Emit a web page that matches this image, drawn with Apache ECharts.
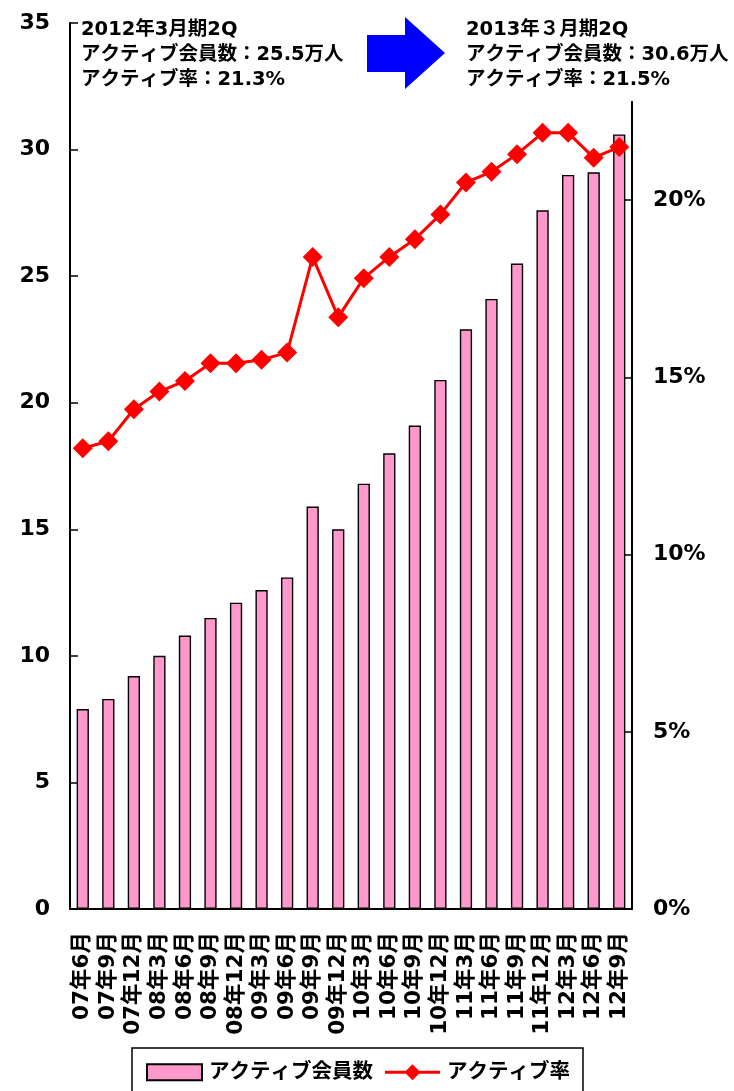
<!DOCTYPE html>
<html>
<head>
<meta charset="utf-8">
<script src="https://cdn.jsdelivr.net/npm/echarts@6/dist/echarts.min.js"></script>
<style>
html,body{margin:0;padding:0;background:#fff;}
#c{width:734px;height:1091px;}
</style>
</head>
<body>
<div id="c"></div>
<script>
var categories = ['07年6月','07年9月','07年12月','08年3月','08年6月','08年9月','08年12月','09年3月','09年6月','09年9月','09年12月','10年3月','10年6月','10年9月','10年12月','11年3月','11年6月','11年9月','11年12月','12年3月','12年6月','12年9月'];
var members = [7.9, 8.3, 9.2, 10.0, 10.8, 11.5, 12.1, 12.6, 13.1, 15.9, 15.0, 16.8, 18.0, 19.1, 20.9, 22.9, 24.1, 25.5, 27.6, 29.0, 29.1, 30.6];
var activeRate = [13.0, 13.2, 14.1, 14.6, 14.9, 15.4, 15.4, 15.5, 15.7, 18.4, 16.7, 17.8, 18.4, 18.9, 19.6, 20.5, 20.8, 21.3, 21.9, 21.9, 21.2, 21.5];
var leftTicks = {min: 0, max: 35, interval: 5};
var rightTicks = {min: 0, max: 25, interval: 5};
var seriesNames = ['アクティブ会員数', 'アクティブ率'];
var noteLeft = ['2012年3月期2Q', 'アクティブ会員数：25.5万人', 'アクティブ率：21.3%'];
var noteRight = ['2013年３月期2Q', 'アクティブ会員数：30.6万人', 'アクティブ率：21.5%'];

var FONT = '"DejaVu Sans", "Noto Sans CJK JP", sans-serif';
var chart = echarts.init(document.getElementById('c'));
chart.setOption({
  animation: false,
  backgroundColor: '#fff',
  grid: {left: 70, right: 102, top: 23, bottom: 182},
  xAxis: {
    type: 'category',
    data: categories,
    axisLine: {lineStyle: {color: '#000', width: 2}},
    axisTick: {inside: true, length: 7, lineStyle: {color: '#000', width: 1.5}},
    axisLabel: {rotate: 90, margin: 23, color: '#000', fontSize: 21.5, fontWeight: 'bold', fontFamily: FONT, interval: 0}
  },
  yAxis: [{
    type: 'value', min: leftTicks.min, max: leftTicks.max, interval: leftTicks.interval,
    splitLine: {show: false},
    axisLine: {show: true, lineStyle: {color: '#000', width: 2}},
    axisTick: {show: true, inside: true, length: 8, lineStyle: {color: '#000', width: 1.5}},
    axisLabel: {margin: 20, color: '#000', fontSize: 22, fontWeight: 'bold', fontFamily: FONT}
  }, {
    type: 'value', min: rightTicks.min, max: rightTicks.max, interval: rightTicks.interval,
    position: 'right',
    splitLine: {show: false},
    axisLine: {show: true, lineStyle: {color: '#000', width: 2}},
    axisTick: {show: true, inside: true, length: 7, lineStyle: {color: '#000', width: 1.5}},
    axisLabel: {margin: 21, color: '#000', fontSize: 22, fontWeight: 'bold', fontFamily: FONT, formatter: '{value}%'}
  }],
  legend: {
    left: 141, top: 1057,
    itemWidth: 55, itemHeight: 16, itemGap: 12,
    textStyle: {color: '#000', fontSize: 20.5, fontWeight: 'bold', fontFamily: FONT, padding: [0, 0, 0, 2]},
    data: [
      {name: seriesNames[0], icon: 'rect'},
      {name: seriesNames[1], icon: 'path://M0,6.5L55,6.5L55,9.5L0,9.5Z M27.5,0L35.5,8L27.5,16L19.5,8Z', itemStyle: {color: '#FF0000', borderWidth: 0}}
    ]
  },
  series: [{
    name: seriesNames[0], type: 'bar', data: members, yAxisIndex: 0,
    barWidth: '48%',
    itemStyle: {color: '#FF99CC', borderColor: '#000', borderWidth: 1.4}
  }, {
    name: seriesNames[1], type: 'line', data: activeRate, yAxisIndex: 1,
    symbol: 'diamond', symbolSize: 20,
    lineStyle: {color: '#FF0000', width: 3},
    itemStyle: {color: '#FF0000'}
  }],
  graphic: [
    {type: 'rect', z: 100, shape: {x: 458, y: 0, width: 276, height: 101}, style: {fill: '#fff'}},
    {type: 'polygon', z: 101, shape: {points: [[367,35],[405,35],[405,17],[445,53],[405,89],[405,72],[367,72]]}, style: {fill: '#0000FF'}},
    {type: 'text', z: 101, left: 81, top: 17, style: {text: noteLeft.join('\n'), fill: '#000', font: 'bold 19.5px ' + FONT, lineHeight: 25}},
    {type: 'text', z: 101, left: 466, top: 17, style: {text: noteRight.join('\n'), fill: '#000', font: 'bold 19.5px ' + FONT, lineHeight: 25}},
    {type: 'rect', z: 100, shape: {x: 132, y: 1048, width: 451, height: 60}, style: {fill: 'none', stroke: '#000', lineWidth: 1.5}}
  ]
});
</script>
</body>
</html>
